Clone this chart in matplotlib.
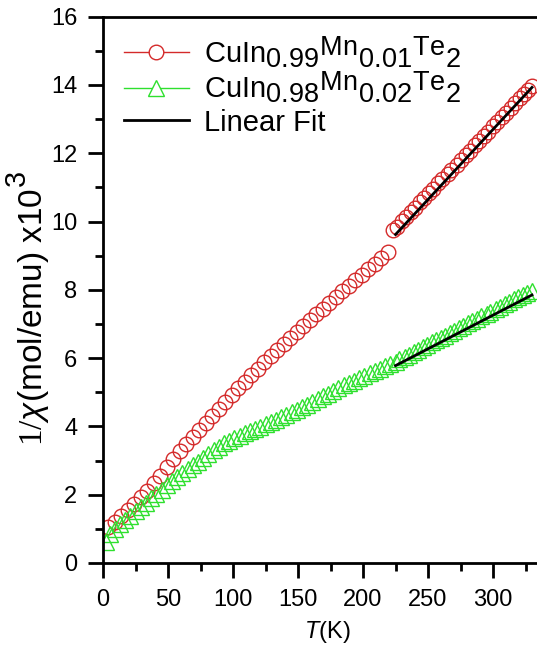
import numpy as np
import matplotlib
matplotlib.use('agg')
import matplotlib.pyplot as plt
import matplotlib._mathtext as mtext

# Origin-style near full size sub/superscripts, superscripts only slightly raised
mtext.SHRINK_FACTOR = 0.93
mtext.FontConstantsBase.sup1 = 0.45

plt.rcParams['font.family'] = ['Liberation Sans', 'DejaVu Sans']
plt.rcParams['mathtext.fontset'] = 'custom'
plt.rcParams['mathtext.rm'] = 'Liberation Serif'
plt.rcParams['mathtext.it'] = 'Liberation Sans:italic'
plt.rcParams['mathtext.sf'] = 'Liberation Sans'
plt.rcParams['mathtext.default'] = 'regular'

# CuIn0.99Mn0.01Te2, low-T part
t_mn01_a = [4, 9, 14, 19, 24, 29, 34, 39, 44, 49, 54, 59, 64, 69, 74, 79, 84, 89, 94, 99,
            104, 109, 114, 119, 124, 129, 134, 139, 144, 149, 154, 159, 164, 169, 174, 179,
            184, 189, 194, 199, 204, 209, 214, 219]
chi_mn01_a = [1.05, 1.2, 1.37, 1.55, 1.73, 1.92, 2.12, 2.33, 2.56, 2.8, 3.05, 3.27, 3.48, 3.7,
              3.9, 4.1, 4.3, 4.5, 4.72, 4.93, 5.12, 5.31, 5.5, 5.69, 5.88, 6.06, 6.24, 6.42,
              6.6, 6.77, 6.94, 7.11, 7.28, 7.45, 7.62, 7.79, 7.96, 8.12, 8.28, 8.44, 8.6,
              8.76, 8.92, 9.12]
# CuIn0.99Mn0.01Te2, high-T part
t_mn01_b = [223, 226, 230, 233, 237, 240, 244, 247, 251, 254, 258, 261, 265, 268, 272, 275,
            279, 282, 286, 289, 293, 296, 300, 303, 307, 310, 314, 317, 321, 324, 327, 330]
chi_mn01_b = [9.74, 9.85, 10.01, 10.13, 10.28, 10.40, 10.56, 10.68, 10.84, 10.96, 11.12,
              11.24, 11.40, 11.51, 11.67, 11.79, 11.95, 12.07, 12.23, 12.35, 12.51, 12.63,
              12.79, 12.91, 13.07, 13.18, 13.34, 13.46, 13.62, 13.74, 13.86, 13.98]

# CuIn0.98Mn0.02Te2
t_mn02 = [2, 5, 9, 13, 17, 21, 25, 29, 33, 37, 41, 45, 49, 53, 57, 61, 65, 69, 73, 77, 81,
          85, 89, 93, 97, 101, 105, 109, 113, 117, 121, 125, 129, 133, 137, 141, 145, 149,
          153, 157, 161, 165, 169, 173, 177, 181, 185, 189, 193, 197, 201, 205, 209, 213,
          217, 221, 225, 228, 232, 235, 239, 242, 246, 249, 253, 256, 260, 263, 267, 270,
          274, 277, 281, 284, 288, 291, 295, 298, 302, 305, 309, 312, 316, 319, 323, 326, 330]
chi_mn02 = [0.6, 0.85, 1.0, 1.13, 1.26, 1.39, 1.52, 1.65, 1.77, 1.9, 2.03, 2.15, 2.28, 2.4,
            2.52, 2.63, 2.74, 2.86, 2.97, 3.08, 3.2, 3.31, 3.41, 3.5, 3.58, 3.65, 3.73, 3.8,
            3.86, 3.92, 3.99, 4.06, 4.13, 4.2, 4.27, 4.34, 4.41, 4.48, 4.56, 4.64, 4.72, 4.8,
            4.88, 4.96, 5.04, 5.12, 5.2, 5.27, 5.34, 5.41, 5.48, 5.55, 5.62, 5.69, 5.76, 5.83,
            5.9, 5.96, 6.04, 6.1, 6.18, 6.24, 6.32, 6.38, 6.46, 6.52, 6.6, 6.66, 6.74, 6.8,
            6.88, 6.94, 7.02, 7.08, 7.16, 7.22, 7.3, 7.36, 7.44, 7.5, 7.58, 7.64, 7.72, 7.78,
            7.86, 7.92, 7.98]

# linear fits (end points)
t_fit = [225, 330]
fit_mn01 = [9.62, 13.93]
fit_mn02 = [5.78, 7.85]

red = '#d42a2a'
green = '#2ee02e'

fig = plt.figure(figsize=(5.37, 6.55), dpi=100)
ax = fig.add_axes([0.192, 0.1405, 0.835, 0.834])

ax.plot(t_mn01_a + t_mn01_b, chi_mn01_a + chi_mn01_b, ls='none', marker='o', ms=10.5,
        mfc='none', mec=red, mew=1.0)
ax.plot(t_mn02, chi_mn02, ls='none', marker='^', ms=12, mfc='none', mec=green, mew=1.0)
ax.plot(t_fit, fit_mn01, color='black', lw=2)
ax.plot(t_fit, fit_mn02, color='black', lw=2)

# legend proxies
h1, = ax.plot([], [], color=red, lw=1, marker='o', ms=10.5, mfc='white', mec=red, mew=1.0)
h2, = ax.plot([], [], color=green, lw=1, marker='^', ms=12, mfc='white', mec=green, mew=1.0)
h3, = ax.plot([], [], color='black', lw=2)
leg_kw = dict(frameon=False, fontsize=21, handlelength=2.25, handletextpad=0.5,
              borderaxespad=0.3)
leg1 = ax.legend([h1, h2],
                 [r'CuIn$_{0.99}$${}^{Mn}$$_{0.01}$${}^{Te}$$_{2}$',
                  r'CuIn$_{0.98}$${}^{Mn}$$_{0.02}$${}^{Te}$$_{2}$'],
                 loc='upper left', bbox_to_anchor=(0.0, 1.0055), labelspacing=0.0, **leg_kw)
ax.add_artist(leg1)
ax.legend([h3], ['Linear Fit'], loc='center left', bbox_to_anchor=(0.0, 0.806), **leg_kw)

ax.set_xlim(0, 345)
ax.set_ylim(0, 16)
ax.set_xticks([0, 50, 100, 150, 200, 250, 300])
ax.set_xticks([25, 75, 125, 175, 225, 275, 325], minor=True)
ax.set_yticks(np.arange(0, 17, 2))
ax.set_yticks(np.arange(1, 17, 2), minor=True)

for s in ax.spines.values():
    s.set_linewidth(2)
ax.tick_params(which='major', direction='out', length=11, width=2, labelsize=17, pad=7.5)
ax.tick_params(which='minor', direction='out', length=6, width=2)

ax.set_xlabel(r'$\mathit{T}$(K)', fontsize=17, labelpad=6)
ax.set_ylabel(r'$\mathrm{1/}\mathit{\chi}$(mol/emu) x10${}^{{}^{3}}$', fontsize=24)
ax.yaxis.set_label_coords(-0.115, 0.465)

fig.savefig('out.png', dpi=100)
